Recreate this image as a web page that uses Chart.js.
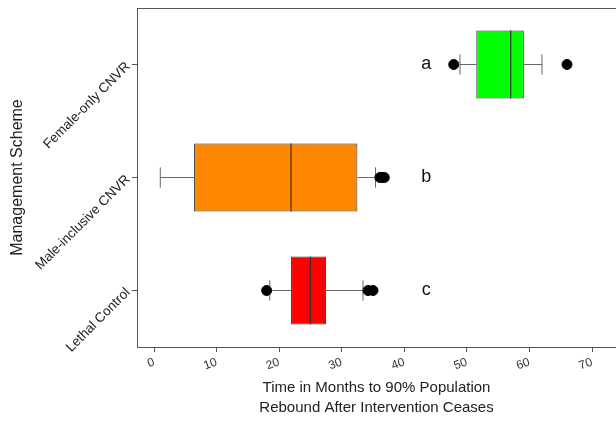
<!DOCTYPE html>
<html lang="en">
<head>
  <meta charset="UTF-8">
  <title>Population rebound by management scheme</title>
  <script src="https://cdn.jsdelivr.net/npm/chart.js"></script>
  <style>
    body { margin: 0; background: #ffffff; }
    #wrap { width: 616px; height: 430px; }
  </style>
</head>
<body>
  <div id="wrap"><canvas id="boxChart"></canvas></div>

  <script>
    // categories from bottom (y = 1) to top (y = 3)
    const categories = ["Lethal Control", "Male-inclusive CNVR", "Female-only CNVR"];
    const whiskerLow = [18.5, 1.0, 48.9];
    const q1 = [21.9, 6.4, 51.5];
    const median = [25.0, 21.9, 57.0];
    const q3 = [27.5, 32.5, 59.1];
    const whiskerHigh = [33.4, 35.4, 62.0];
    const outliers = [[18.0, 34.2, 35.0], [36.1, 36.5, 36.8], [47.9, 66.0]];
    const groupLetters = ["c", "b", "a"];
    const boxColors = ["#ff0000", "#ff8800", "#00ff00"];
    const xTicks = [0, 10, 20, 30, 40, 50, 60, 70];

    const FONT = "'Liberation Sans', Arial, sans-serif";
    const letterX = 43.5;

    const boxData = categories.map((c, i) => ({ y: i + 1, x: [q1[i], q3[i]] }));
    const outlierData = [];
    outliers.forEach((list, i) => list.forEach(v => outlierData.push({ x: v, y: i + 1 })));

    const boxExtras = {
      id: "boxExtras",
      beforeDatasetsDraw(chart) {
        const ctx = chart.ctx, xs = chart.scales.x, ys = chart.scales.y;
        const cap = ys.getPixelForValue(0) - ys.getPixelForValue(0.09);
        ctx.save();
        ctx.strokeStyle = "#666";
        ctx.lineWidth = 1;
        categories.forEach((c, i) => {
          const y = ys.getPixelForValue(i + 1);
          const lo = xs.getPixelForValue(whiskerLow[i]);
          const hi = xs.getPixelForValue(whiskerHigh[i]);
          ctx.beginPath();
          ctx.moveTo(lo, y); ctx.lineTo(xs.getPixelForValue(q1[i]), y);
          ctx.moveTo(xs.getPixelForValue(q3[i]), y); ctx.lineTo(hi, y);
          ctx.moveTo(lo, y - cap); ctx.lineTo(lo, y + cap);
          ctx.moveTo(hi, y - cap); ctx.lineTo(hi, y + cap);
          ctx.stroke();
        });
        ctx.restore();
      },
      afterDatasetsDraw(chart) {
        const ctx = chart.ctx, xs = chart.scales.x, ys = chart.scales.y;
        const half = ys.getPixelForValue(0) - ys.getPixelForValue(0.3);
        const area = chart.chartArea;
        ctx.save();
        ctx.strokeStyle = "#333";
        ctx.lineWidth = 1.2;
        categories.forEach((c, i) => {
          const y = ys.getPixelForValue(i + 1);
          const m = xs.getPixelForValue(median[i]);
          ctx.beginPath();
          ctx.moveTo(m, y - half); ctx.lineTo(m, y + half);
          ctx.stroke();
        });
        // top frame line
        ctx.strokeStyle = "#555";
        ctx.lineWidth = 1;
        ctx.beginPath();
        ctx.moveTo(area.left, area.top + 0.5);
        ctx.lineTo(area.right, area.top + 0.5);
        ctx.stroke();
        // group letters
        ctx.fillStyle = "#111";
        ctx.font = "18px " + FONT;
        ctx.textAlign = "center";
        ctx.textBaseline = "middle";
        groupLetters.forEach((t, i) => {
          ctx.fillText(t, xs.getPixelForValue(letterX), ys.getPixelForValue(i + 1));
        });
        ctx.restore();
      }
    };

    new Chart(document.getElementById("boxChart"), {
      type: "bar",
      data: {
        datasets: [
          {
            type: "scatter",
            data: outlierData,
            backgroundColor: "#000",
            borderColor: "#000",
            pointRadius: 5,
            pointHoverRadius: 5
          },
          {
            data: boxData,
            backgroundColor: boxColors,
            borderColor: "#333",
            borderWidth: 1,
            borderSkipped: false,
            barPercentage: 0.6,
            categoryPercentage: 1
          }
        ]
      },
      plugins: [boxExtras],
      options: {
        indexAxis: "y",
        responsive: true,
        maintainAspectRatio: false,
        animation: false,
        layout: { autoPadding: false, padding: { top: 8, right: 0, left: 0, bottom: 0 } },
        plugins: { legend: { display: false }, tooltip: { enabled: false } },
        scales: {
          x: {
            type: "linear",
            min: -2.72,
            max: 73.83,
            afterBuildTicks: s => { s.ticks = xTicks.map(v => ({ value: v })); },
            afterFit: s => { s.height = 83; s.paddingLeft = 0; s.paddingRight = 0; },
            grid: { drawOnChartArea: false, tickLength: 5, color: "#555" },
            border: { color: "#555", width: 1 },
            ticks: {
              minRotation: 20, maxRotation: 20, padding: 3,
              color: "#333", font: { family: FONT, size: 12 }
            },
            title: {
              display: true,
              text: ["Time in Months to 90% Population", "Rebound After Intervention Ceases"],
              color: "#222",
              font: { family: FONT, size: 15, lineHeight: 1.33 },
              padding: { top: 0, bottom: 12 }
            }
          },
          y: {
            type: "linear",
            min: 0.5,
            max: 3.5,
            offset: false,
            afterBuildTicks: s => { s.ticks = categories.map((c, i) => ({ value: i + 1 })); },
            afterFit: s => { s.width = 137; s.paddingTop = 0; s.paddingBottom = 0; },
            grid: { drawOnChartArea: false, offset: false, tickLength: 5, color: "#555" },
            border: { color: "#555", width: 1 },
            ticks: {
              minRotation: 45, maxRotation: 45, padding: 4,
              color: "#222", font: { family: FONT, size: 13.5 },
              callback: v => categories[v - 1]
            },
            title: {
              display: true,
              text: "Management Scheme",
              color: "#222",
              font: { family: FONT, size: 16 },
              padding: { top: 8, bottom: 0 }
            }
          }
        }
      }
    });
  </script>
</body>
</html>
